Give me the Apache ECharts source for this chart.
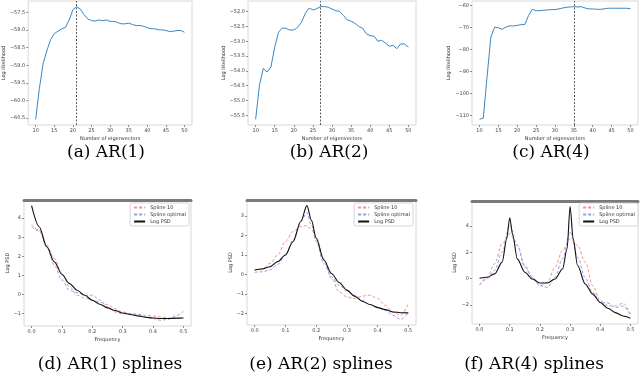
<!DOCTYPE html>
<html>
<head>
<meta charset="utf-8">
<script src="https://cdn.jsdelivr.net/npm/echarts@6/dist/echarts.min.js"></script>
<style>
  html, body { margin: 0; padding: 0; background: #fff; }
  #chart { width: 640px; height: 377px; }
</style>
</head>
<body>
<div id="chart"></div>
<script>
// number of eigenvectors (top row x values)
const eigCounts = [10,11,12,13,14,15,16,17,18,19,20,21,22,23,24,25,26,27,28,29,30,
  31,32,33,34,35,36,37,38,39,40,41,42,43,44,45,46,47,48,49,50];

// log likelihood curves
const llAR1 = [-60.54,-59.66,-58.95,-58.59,-58.27,-58.10,-58.03,-57.96,-57.92,-57.71,-57.42,
  -57.33,-57.40,-57.56,-57.68,-57.73,-57.74,-57.71,-57.73,-57.71,-57.75,-57.75,-57.78,-57.82,
  -57.82,-57.80,-57.84,-57.87,-57.87,-57.89,-57.93,-57.96,-57.96,-57.99,-57.99,-58.01,-58.04,
  -58.03,-58.01,-58.01,-58.06];
const llAR2 = [-55.64,-54.48,-53.92,-54.04,-53.87,-53.20,-52.69,-52.55,-52.57,-52.62,-52.62,
  -52.53,-52.36,-52.06,-51.88,-51.94,-51.90,-51.83,-51.83,-51.85,-51.91,-51.97,-51.99,-52.13,
  -52.28,-52.32,-52.39,-52.50,-52.56,-52.75,-52.81,-52.83,-53.00,-52.97,-53.06,-53.17,-53.14,
  -53.25,-53.09,-53.09,-53.20];
const llAR4 = [-111.8,-111.2,-92.3,-74.3,-69.8,-70.1,-70.8,-69.8,-69.2,-69.3,-69.0,-68.7,-68.6,
  -64.5,-61.7,-62.3,-62.3,-62.1,-62.0,-61.8,-61.8,-61.5,-61.1,-60.8,-60.6,-60.5,-60.6,-60.5,
  -61.1,-61.5,-61.5,-61.7,-61.7,-61.5,-61.2,-61.2,-61.2,-61.2,-61.2,-61.2,-61.4];
// chosen number of eigenvectors (dashed vertical lines)
const bestK = [21, 27, 35];

// bottom row: frequency grids
const freqD = [0,0.025,0.05,0.075,0.1,0.125,0.15,0.175,0.2,0.225,0.25,0.275,0.3,0.325,0.35,
  0.375,0.4,0.425,0.45,0.475,0.5];
const psdD = [4.65,3.55,2.50,1.71,1.05,0.57,0.22,-0.04,-0.30,-0.51,-0.70,-0.84,-0.97,-1.05,
  -1.12,-1.19,-1.23,-1.26,-1.26,-1.24,-1.23];
const spl10D = [3.55,3.32,2.58,1.88,1.10,0.40,-0.04,-0.18,-0.30,-0.39,-0.53,-0.74,-0.91,-1.00,
  -1.03,-1.09,-1.12,-1.17,-1.23,-1.26,-1.23];
const splOptD = [3.67,3.37,2.50,1.53,0.75,0.22,0.10,-0.04,-0.04,-0.30,-0.65,-0.91,-1.00,-1.02,
  -1.05,-1.17,-1.26,-1.35,-1.30,-1.12,-0.88];

const freqE = [0,0.025,0.05,0.075,0.1,0.125,0.15,0.17,0.185,0.2,0.225,0.25,0.275,0.3,0.325,
  0.35,0.375,0.4,0.425,0.45,0.475,0.5];
const psdE = [0.22,0.27,0.39,0.65,0.99,1.68,2.71,3.52,2.75,1.85,0.73,0.04,-0.42,-0.81,-1.12,
  -1.38,-1.55,-1.71,-1.81,-1.93,-1.97,-1.98];
const spl10E = [0.22,0.30,0.56,0.99,1.68,2.19,2.45,2.50,2.28,1.93,0.82,-0.21,-0.90,-1.16,-1.24,
  -1.12,-1.07,-1.24,-1.59,-1.93,-2.10,-1.50];
const splOptE = [0.10,0.13,0.22,0.51,0.99,1.76,2.71,3.15,2.50,1.68,0.56,-0.13,-0.56,-0.85,-1.07,
  -1.33,-1.55,-1.67,-1.85,-2.10,-2.31,-1.97];

const freqFpsd = [0,0.025,0.05,0.075,0.09,0.1,0.11,0.125,0.15,0.175,0.2,0.225,0.25,0.275,0.29,
  0.3,0.31,0.325,0.35,0.375,0.4,0.425,0.45,0.475,0.5];
const psdF = [0.03,0.10,0.36,1.26,3.05,4.64,3.31,1.51,0.49,-0.03,-0.33,-0.33,-0.03,0.74,2.28,
  5.49,3.05,1.00,-0.41,-1.18,-1.82,-2.26,-2.59,-2.85,-3.03];
const freqF = [0,0.025,0.05,0.075,0.1,0.125,0.15,0.175,0.2,0.225,0.25,0.275,0.3,0.325,0.35,
  0.375,0.4,0.425,0.45,0.475,0.5];
const spl10F = [-0.49,0.10,1.13,2.67,3.44,2.54,1.00,0.10,-0.54,-0.28,0.87,2.15,3.05,2.54,1.26,
  -0.54,-1.69,-2.08,-2.08,-1.87,-2.72];
const splOptF = [-0.49,-0.03,0.62,2.03,4.08,2.54,0.87,0.10,-0.54,-0.67,0.10,1.51,3.56,1.64,0.10,
  -1.05,-1.82,-1.87,-2.21,-2.08,-2.79];

// tick labels
const eigTicks = [10,15,20,25,30,35,40,45,50];
const freqTicks = [0,0.1,0.2,0.3,0.4,0.5];
const yTicksA = [-60.5,-60,-59.5,-59,-58.5,-58,-57.5];
const yTicksB = [-55.5,-55,-54.5,-54,-53.5,-53,-52.5,-52];
const yTicksC = [-110,-100,-90,-80,-70,-60];
const yTicksD = [-1,0,1,2,3,4];
const yTicksE = [-2,-1,0,1,2,3];
const yTicksF = [-2,0,2,4,6];

const captions = ['(a) AR(1)','(b) AR(2)','(c) AR(4)',
  '(d) AR(1) splines','(e) AR(2) splines','(f) AR(4) splines'];

const names = ['Spline 10', 'Spline optimal', 'Log PSD'];

const zip = (xs, ys) => xs.map((x, i) => [x, ys[i]]);
const minus = s => String(s).replace('-', '\u2212');
const tickFont = { fontSize: 5, color: '#444', fontFamily: 'DejaVu Sans' };
const nameFont = { fontSize: 5, color: '#333', fontFamily: 'DejaVu Sans' };

const grids = [
  { left: 25, top: 1, width: 167, height: 124 },
  { left: 248, top: 1, width: 168, height: 124 },
  { left: 472, top: 1, width: 166, height: 124 },
  { left: 24, top: 200, width: 167, height: 126 },
  { left: 247, top: 200, width: 169, height: 125 },
  { left: 472, top: 201, width: 166, height: 123 }
].map(g => Object.assign(g, { show: true, borderColor: '#d8d8d8', borderWidth: 1 }));

function xAx(gi, min, max, ticks, fmt, name) {
  return {
    type: 'value', gridIndex: gi, min: min, max: max, position: 'bottom',
    name: name, nameLocation: 'middle', nameGap: 11, nameTextStyle: nameFont,
    axisLine: { show: false, onZero: false },
    axisTick: { show: true, length: 2, customValues: ticks, lineStyle: { color: '#444', width: 0.6 } },
    axisLabel: Object.assign({ customValues: ticks, margin: 3, formatter: fmt }, tickFont),
    splitLine: { show: false }
  };
}
function yAx(gi, min, max, ticks, fmt, name, gap) {
  return {
    type: 'value', gridIndex: gi, min: min, max: max, position: 'left',
    name: name, nameLocation: 'middle', nameGap: gap, nameRotate: 90, nameTextStyle: nameFont,
    axisLine: { show: false, onZero: false },
    axisTick: { show: true, length: 2, customValues: ticks, lineStyle: { color: '#444', width: 0.6 } },
    axisLabel: Object.assign({ customValues: ticks, margin: 3, formatter: fmt }, tickFont),
    splitLine: { show: false }
  };
}
function topBar(gi) {
  return {
    type: 'value', gridIndex: gi, position: 'top', min: -0.025, max: 0.525,
    axisLine: { show: true, onZero: false, lineStyle: { color: '#7a7a7a', width: 3 } },
    axisTick: { show: false }, axisLabel: { show: false }, splitLine: { show: false }
  };
}

const fmt1 = v => minus(v.toFixed(1));
const fmt0 = v => minus(String(v));

const xAxes = [
  xAx(0, 8, 52, eigTicks, fmt0, 'Number of eigenvectors'),
  xAx(1, 8, 52, eigTicks, fmt0, 'Number of eigenvectors'),
  xAx(2, 8, 52, eigTicks, fmt0, 'Number of eigenvectors'),
  xAx(3, -0.025, 0.525, freqTicks, fmt1, 'Frequency'),
  xAx(4, -0.025, 0.525, freqTicks, fmt1, 'Frequency'),
  xAx(5, -0.025, 0.525, freqTicks, fmt1, 'Frequency'),
  topBar(3), topBar(4), topBar(5)
];
const yAxes = [
  yAx(0, -60.7, -57.17, yTicksA, fmt1, 'Log likelihood', 19),
  yAx(1, -55.83, -51.64, yTicksB, fmt1, 'Log likelihood', 22),
  yAx(2, -114.4, -57.9, yTicksC, fmt0, 'Log likelihood', 20),
  yAx(3, -1.65, 4.95, yTicksD, fmt0, 'Log PSD', 14),
  yAx(4, -2.60, 3.81, yTicksE, fmt0, 'Log PSD', 13),
  yAx(5, -3.46, 5.92, yTicksF, fmt0, 'Log PSD', 15)
];

const series = [];
[llAR1, llAR2, llAR4].forEach((ys, i) => {
  series.push({
    type: 'line', xAxisIndex: i, yAxisIndex: i, data: zip(eigCounts, ys),
    symbol: 'none', lineStyle: { color: '#3a86c4', width: 1 },
    markLine: {
      silent: true, symbol: 'none', label: { show: false },
      lineStyle: { color: '#333', type: [2, 1.5], width: 0.8 },
      data: [{ xAxis: bestK[i] }]
    }
  });
});

const panels = [
  { xs: freqD, psdX: freqD, s10: spl10D, sOpt: splOptD, psd: psdD },
  { xs: freqE, psdX: freqE, s10: spl10E, sOpt: splOptE, psd: psdE },
  { xs: freqF, psdX: freqFpsd, s10: spl10F, sOpt: splOptF, psd: psdF }
];
panels.forEach((p, i) => {
  const ax = 3 + i;
  series.push({
    name: names[0], type: 'line', xAxisIndex: ax, yAxisIndex: ax, data: zip(p.xs, p.s10),
    symbol: 'none', smooth: 0.35, smoothMonotone: 'x',
    lineStyle: { color: '#f49090', width: 1, type: [3, 2] }, itemStyle: { color: '#f49090' }
  });
  series.push({
    name: names[1], type: 'line', xAxisIndex: ax, yAxisIndex: ax, data: zip(p.xs, p.sOpt),
    symbol: 'none', smooth: 0.35, smoothMonotone: 'x',
    lineStyle: { color: '#9a9af4', width: 1, type: [3, 2] }, itemStyle: { color: '#9a9af4' }
  });
  series.push({
    name: names[2], type: 'line', xAxisIndex: ax, yAxisIndex: ax, data: zip(p.psdX, p.psd),
    symbol: 'none', smooth: 0.3, smoothMonotone: 'x',
    lineStyle: { color: '#111', width: 1.1 }, itemStyle: { color: '#111' }
  });
});

const legendRights = [451, 227, 2];
const legends = legendRights.map(r => ({
  data: names, right: r, top: 203, orient: 'vertical', itemGap: 2,
  itemWidth: 11, itemHeight: 5, padding: [2, 3, 2, 3],
  borderColor: '#ccc', borderWidth: 0.8, borderRadius: 2, backgroundColor: '#fff',
  selectedMode: false,
  itemStyle: { opacity: 0 },
  textStyle: { fontSize: 5, color: '#333', fontFamily: 'DejaVu Sans', padding: [0, 0, 0, 0] }
}));

const capPos = [[106, 153], [329, 153], [551, 153], [110, 365], [321, 365], [534, 365]];
const graphic = captions.map((t, i) => ({
  type: 'text', x: capPos[i][0], y: capPos[i][1],
  style: { text: t, font: '17px "DejaVu Serif"', fill: '#000', align: 'center', verticalAlign: 'middle' }
}));

const chart = echarts.init(document.getElementById('chart'), null, { renderer: 'canvas' });
chart.setOption({
  animation: false,
  backgroundColor: '#fff',
  grid: grids,
  xAxis: xAxes,
  yAxis: yAxes,
  legend: legends,
  series: series,
  graphic: graphic
});
</script>
</body>
</html>
